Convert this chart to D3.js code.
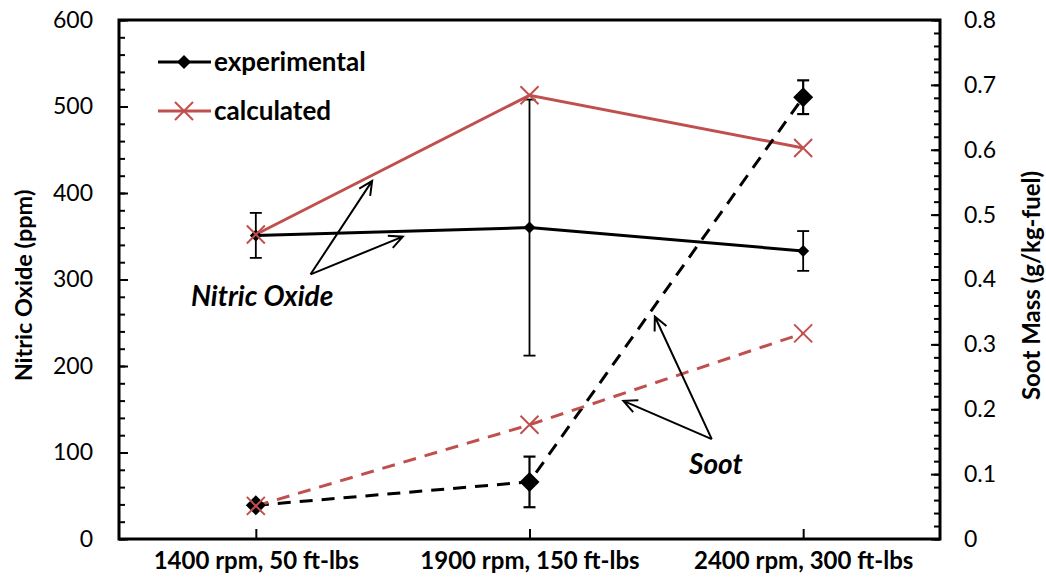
<!DOCTYPE html>
<html>
<head>
<meta charset="utf-8">
<script src="https://cdn.jsdelivr.net/npm/d3@7"></script>
<style>
  html, body { margin: 0; padding: 0; background: #fff; }
  svg { display: block; }
  text { font-family: Lato, "Open Sans", sans-serif; fill: #000; }
</style>
</head>
<body>
<svg id="chart" width="1046" height="579"></svg>
<script>
// Operating conditions (x categories)
const categories = ["1400 rpm, 50 ft-lbs", "1900 rpm, 150 ft-lbs", "2400 rpm, 300 ft-lbs"];

// Nitric oxide, ppm (left axis)
const noExperimental = [351, 360, 333];
const noExperimentalErr = [26, 148, 23];
const noCalculated = [352, 513, 452];

// Soot mass, g/kg-fuel (right axis)
const sootExperimental = [0.052, 0.088, 0.681];
const sootExperimentalErr = [0, 0.039, 0.026];
const sootCalculated = [0.051, 0.176, 0.317];

// Axis ticks
const leftTicks = [0, 100, 200, 300, 400, 500, 600];
const rightTicks = [0, 0.1, 0.2, 0.3, 0.4, 0.5, 0.6, 0.7, 0.8];

const RED = "#C0504D";
const W = 1046, H = 579;
const margin = { top: 20, right: 106, bottom: 40, left: 119 };
const x0 = margin.left, x1 = W - margin.right, y0 = H - margin.bottom, y1 = margin.top;

const svg = d3.select("#chart");

const x = d3.scalePoint().domain(categories).range([x0, x1]).padding(0.5);
// continuous position along the category axis (0 = first category)
const xi = d3.scaleLinear().domain([0, categories.length - 1])
  .range([x(categories[0]), x(categories[categories.length - 1])]);
const yL = d3.scaleLinear().domain([0, 600]).range([y0, y1]);
const yR = d3.scaleLinear().domain([0, 0.8]).range([y0, y1]);

// ---- axes ----
const labelFont = 23;
const gL = svg.append("g").attr("transform", `translate(${x0},0)`);
gL.call(d3.axisLeft(yL).tickValues(d3.range(0, 601, 20)).tickSize(-6).tickFormat(""));
gL.call(g => g.append("g").call(d3.axisLeft(yL).tickValues(leftTicks).tickSize(-9).tickPadding(26).tickFormat(d3.format("d"))));
const gR = svg.append("g").attr("transform", `translate(${x1},0)`);
gR.call(d3.axisRight(yR).tickValues(d3.range(0, 41).map(i => i * 0.02)).tickSize(-6).tickFormat(""));
gR.call(g => g.append("g").call(d3.axisRight(yR).tickValues(rightTicks).tickSize(-9).tickPadding(24).tickFormat(d => d === 0 ? "0" : d3.format(".1f")(d))));
const gB = svg.append("g").attr("transform", `translate(0,${y0})`);
gB.call(d3.axisBottom(x).tickSize(-10).tickPadding(22));

svg.selectAll(".domain").remove();
svg.selectAll(".tick line").attr("stroke", "#000").attr("stroke-width", 2);
gL.selectAll("text").attr("font-size", labelFont).attr("font-family", "Lato");
gR.selectAll("text").attr("font-size", labelFont).attr("font-family", "Lato");
gB.selectAll("text").attr("font-size", 24).attr("font-weight", "bold").attr("font-family", "Lato")
  .attr("dy", "0.35em");

// frame
svg.append("rect").attr("x", x0).attr("y", y1).attr("width", x1 - x0).attr("height", y0 - y1)
  .attr("fill", "none").attr("stroke", "#000").attr("stroke-width", 3);

// axis titles
svg.append("text").attr("transform", `translate(32,${(y0 + y1) / 2 + 6}) rotate(-90)`)
  .attr("text-anchor", "middle").attr("font-size", 23.5).attr("font-weight", "bold")
  .text("Nitric Oxide (ppm)");
svg.append("text").attr("transform", `translate(1040,${(y0 + y1) / 2 + 6}) rotate(-90)`)
  .attr("text-anchor", "middle").attr("font-size", 24).attr("font-weight", "bold")
  .text("Soot Mass (g/kg-fuel)");

// ---- error bars ----
function errorBars(vals, errs, y, cap, sw) {
  const g = svg.append("g").attr("stroke", "#000").attr("stroke-width", sw);
  vals.forEach((v, i) => {
    if (!errs[i]) return;
    const cx = x(categories[i]);
    g.append("line").attr("x1", cx).attr("x2", cx).attr("y1", y(v - errs[i])).attr("y2", y(v + errs[i]));
    [v - errs[i], v + errs[i]].forEach(e =>
      g.append("line").attr("x1", cx - cap).attr("x2", cx + cap).attr("y1", y(e)).attr("y2", y(e)));
  });
}
errorBars(noExperimental, noExperimentalErr, yL, 6, 1.8);
errorBars(sootExperimental, sootExperimentalErr, yR, 6, 2.2);

// ---- lines ----
function series(vals, y, color, dashed) {
  const line = d3.line().x((d, i) => x(categories[i])).y(d => y(d));
  svg.append("path").datum(vals).attr("d", line).attr("fill", "none")
    .attr("stroke", color).attr("stroke-width", 3)
    .attr("stroke-dasharray", dashed ? "13,9" : null);
}
series(noExperimental, yL, "#000", false);
series(noCalculated, yL, RED, false);
series(sootExperimental, yR, "#000", true);
series(sootCalculated, yR, RED, true);

// ---- markers ----
function diamonds(vals, y, r) {
  svg.append("g").selectAll("path").data(vals).join("path")
    .attr("d", (d, i) => {
      const cx = x(categories[i]), cy = y(d);
      return `M${cx},${cy - r}L${cx + r},${cy}L${cx},${cy + r}L${cx - r},${cy}Z`;
    }).attr("fill", "#000");
}
function crosses(vals, y, r) {
  svg.append("g").selectAll("path").data(vals).join("path")
    .attr("d", (d, i) => {
      const cx = x(categories[i]), cy = y(d);
      return `M${cx - r},${cy - r}L${cx + r},${cy + r}M${cx + r},${cy - r}L${cx - r},${cy + r}`;
    }).attr("stroke", RED).attr("stroke-width", 2).attr("fill", "none");
}
diamonds(noExperimental, yL, 6);
diamonds(sootExperimental, yR, 10);
crosses(noCalculated, yL, 9);
crosses(sootCalculated, yR, 9);

// ---- legend ----
const legend = [
  { label: "experimental", color: "#000", mark: "diamond", ly: 62 },
  { label: "calculated", color: RED, mark: "cross", ly: 111 }
];
legend.forEach(d => {
  const g = svg.append("g");
  g.append("line").attr("x1", 158).attr("x2", 211).attr("y1", d.ly).attr("y2", d.ly)
    .attr("stroke", d.color).attr("stroke-width", 3);
  if (d.mark === "diamond") {
    g.append("path").attr("d", `M184,${d.ly - 7}L191,${d.ly}L184,${d.ly + 7}L177,${d.ly}Z`).attr("fill", "#000");
  } else {
    g.append("path").attr("d", `M175,${d.ly - 9}L193,${d.ly + 9}M193,${d.ly - 9}L175,${d.ly + 9}`)
      .attr("stroke", RED).attr("stroke-width", 2);
  }
  g.append("text").attr("x", 214).attr("y", d.ly).attr("dy", "0.35em")
    .attr("font-size", 26).attr("font-weight", "bold").text(d.label);
});

// ---- annotations ----
function arrow(from, to, yScale) {
  const ax = xi(from[0]), ay = yScale(from[1]), bx = xi(to[0]), by = yScale(to[1]);
  const ang = Math.atan2(by - ay, bx - ax), L = 15, spread = 0.45;
  const p1 = [bx - L * Math.cos(ang - spread), by - L * Math.sin(ang - spread)];
  const p2 = [bx - L * Math.cos(ang + spread), by - L * Math.sin(ang + spread)];
  svg.append("path")
    .attr("d", `M${ax},${ay}L${bx},${by}M${p1[0]},${p1[1]}L${bx},${by}L${p2[0]},${p2[1]}`)
    .attr("stroke", "#000").attr("stroke-width", 2).attr("fill", "none");
}
arrow([0.2, 306], [0.425, 414], yL);
arrow([0.2, 306], [0.537, 349.5], yL);
arrow([1.666, 0.154], [1.458, 0.343], yR);
arrow([1.666, 0.154], [1.343, 0.213], yR);

svg.append("text").attr("x", xi(0.023)).attr("y", yL(269)).attr("text-anchor", "middle")
  .attr("font-size", 28).attr("font-weight", "bold").attr("font-style", "italic").text("Nitric Oxide");
svg.append("text").attr("x", xi(1.681)).attr("y", yR(0.1)).attr("text-anchor", "middle")
  .attr("font-size", 28).attr("font-weight", "bold").attr("font-style", "italic").text("Soot");
</script>
</body>
</html>
